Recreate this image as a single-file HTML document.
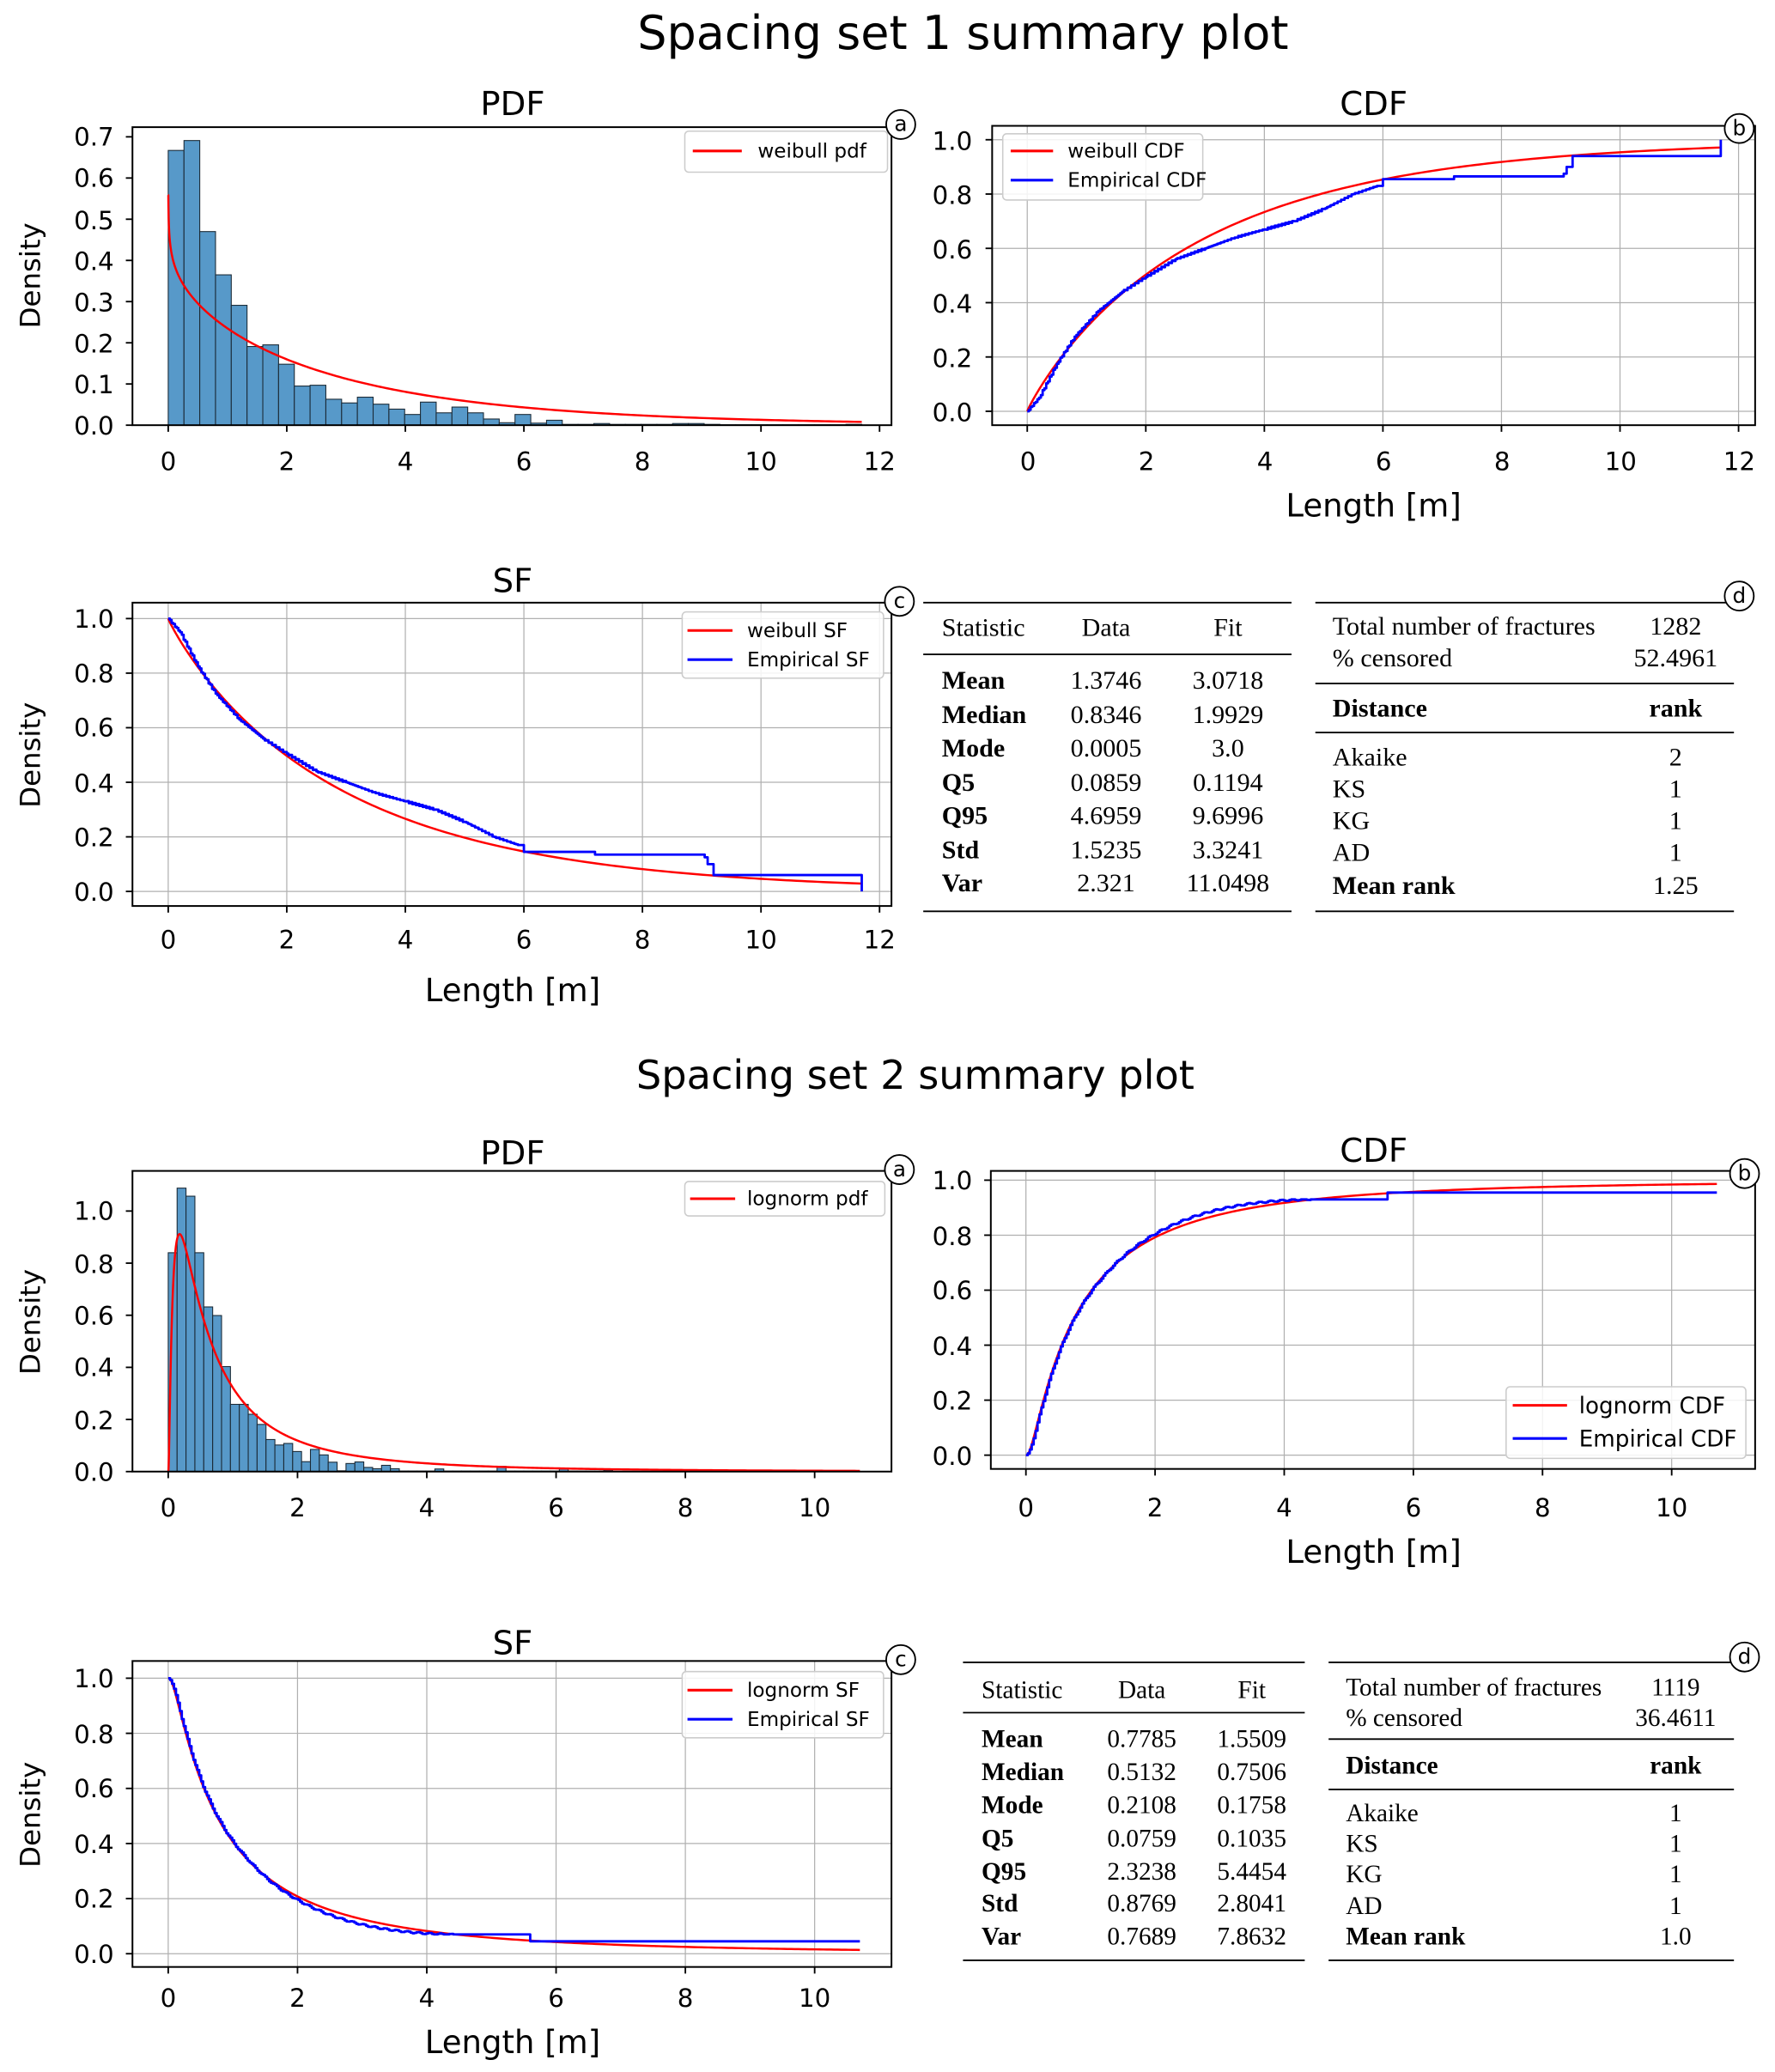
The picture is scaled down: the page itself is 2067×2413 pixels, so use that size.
<!DOCTYPE html>
<html><head><meta charset="utf-8"><style>
html,body{margin:0;padding:0;background:#fff}
svg{display:block}
.t{font-family:"DejaVu Sans","Liberation Sans",sans-serif;fill:#000}
.s{font-family:"Liberation Serif",serif;fill:#000;font-size:19.5px}
.s2{font-family:"Liberation Serif",serif;fill:#000;font-size:19px}
.b{font-weight:bold}
</style></head><body>
<svg id="S" xmlns="http://www.w3.org/2000/svg" width="2067" height="2413" viewBox="0 0 1340 1564.3">
<rect width="1340" height="1565" fill="#fff"/>
<g id="G"></g>
<text class="t" x="727" y="37" font-size="35" text-anchor="middle">Spacing set 1 summary plot</text>
<text class="t" x="691" y="822" font-size="30" text-anchor="middle">Spacing set 2 summary plot</text>
<text class="t" x="387" y="87" font-size="25" text-anchor="middle">PDF</text>
<text class="t" x="1037" y="87" font-size="25" text-anchor="middle">CDF</text>
<text class="t" x="387" y="447" font-size="25" text-anchor="middle">SF</text>
<text class="t" x="387" y="879" font-size="25" text-anchor="middle">PDF</text>
<text class="t" x="1037" y="877" font-size="25" text-anchor="middle">CDF</text>
<text class="t" x="387" y="1249" font-size="25" text-anchor="middle">SF</text>
<text class="t" x="1037" y="390" font-size="24" text-anchor="middle">Length [m]</text>
<text class="t" x="387" y="756" font-size="24" text-anchor="middle">Length [m]</text>
<text class="t" x="1037" y="1180" font-size="24" text-anchor="middle">Length [m]</text>
<text class="t" x="387" y="1550" font-size="24" text-anchor="middle">Length [m]</text>
<text class="t" font-size="21" text-anchor="middle" transform="translate(30,208) rotate(-90)">Density</text>
<text class="t" font-size="21" text-anchor="middle" transform="translate(30,570) rotate(-90)">Density</text>
<text class="t" font-size="21" text-anchor="middle" transform="translate(30,998) rotate(-90)">Density</text>
<text class="t" font-size="21" text-anchor="middle" transform="translate(30,1370) rotate(-90)">Density</text>
<g class="t" font-size="19" text-anchor="end">
<text x="86" y="328">0.0</text><text x="86" y="297">0.1</text><text x="86" y="266">0.2</text><text x="86" y="235">0.3</text><text x="86" y="204">0.4</text><text x="86" y="173">0.5</text><text x="86" y="141">0.6</text><text x="86" y="110">0.7</text>
</g>
<g class="t" font-size="19" text-anchor="middle">
<text x="127" y="355">0</text><text x="216.5" y="355">2</text><text x="306" y="355">4</text><text x="395.5" y="355">6</text><text x="485" y="355">8</text><text x="574.5" y="355">10</text><text x="664" y="355">12</text>
</g>
<g class="t" font-size="19" text-anchor="end">
<text x="734" y="318">0.0</text><text x="734" y="277">0.2</text><text x="734" y="236">0.4</text><text x="734" y="195">0.6</text><text x="734" y="154">0.8</text><text x="734" y="113">1.0</text>
</g>
<g class="t" font-size="19" text-anchor="middle">
<text x="776" y="355">0</text><text x="865.5" y="355">2</text><text x="955" y="355">4</text><text x="1044.5" y="355">6</text><text x="1134" y="355">8</text><text x="1223.5" y="355">10</text><text x="1313" y="355">12</text>
</g>
<g class="t" font-size="19" text-anchor="end">
<text x="86" y="680">0.0</text><text x="86" y="639">0.2</text><text x="86" y="598">0.4</text><text x="86" y="556">0.6</text><text x="86" y="515">0.8</text><text x="86" y="474">1.0</text>
</g>
<g class="t" font-size="19" text-anchor="middle">
<text x="127" y="716">0</text><text x="216.5" y="716">2</text><text x="306" y="716">4</text><text x="395.5" y="716">6</text><text x="485" y="716">8</text><text x="574.5" y="716">10</text><text x="664" y="716">12</text>
</g>
<g class="t" font-size="19" text-anchor="end">
<text x="86" y="1118">0.0</text><text x="86" y="1079">0.2</text><text x="86" y="1039">0.4</text><text x="86" y="1000">0.6</text><text x="86" y="961">0.8</text><text x="86" y="921">1.0</text>
</g>
<g class="t" font-size="19" text-anchor="middle">
<text x="127" y="1145">0</text><text x="224.6" y="1145">2</text><text x="322.2" y="1145">4</text><text x="419.8" y="1145">6</text><text x="517.4" y="1145">8</text><text x="615" y="1145">10</text>
</g>
<g class="t" font-size="19" text-anchor="end">
<text x="734" y="1106">0.0</text><text x="734" y="1064">0.2</text><text x="734" y="1023">0.4</text><text x="734" y="981">0.6</text><text x="734" y="940">0.8</text><text x="734" y="898">1.0</text>
</g>
<g class="t" font-size="19" text-anchor="middle">
<text x="774.5" y="1145">0</text><text x="872" y="1145">2</text><text x="969.5" y="1145">4</text><text x="1067" y="1145">6</text><text x="1164.5" y="1145">8</text><text x="1262" y="1145">10</text>
</g>
<g class="t" font-size="19" text-anchor="end">
<text x="86" y="1482">0.0</text><text x="86" y="1440">0.2</text><text x="86" y="1399">0.4</text><text x="86" y="1357">0.6</text><text x="86" y="1316">0.8</text><text x="86" y="1274">1.0</text>
</g>
<g class="t" font-size="19" text-anchor="middle">
<text x="127" y="1515">0</text><text x="224.6" y="1515">2</text><text x="322.2" y="1515">4</text><text x="419.8" y="1515">6</text><text x="517.4" y="1515">8</text><text x="615" y="1515">10</text>
</g>
<g id="LEG"></g>
<g class="t" font-size="15">
<text x="572" y="119">weibull pdf</text>
<text x="806" y="119">weibull CDF</text><text x="806" y="141">Empirical CDF</text>
<text x="564" y="481">weibull SF</text><text x="564" y="503">Empirical SF</text>
<text x="564" y="910">lognorm pdf</text>
<text x="1192" y="1067" font-size="17">lognorm CDF</text><text x="1192" y="1092" font-size="17">Empirical CDF</text>
<text x="564" y="1281">lognorm SF</text><text x="564" y="1303">Empirical SF</text>
</g>
<g class="t" font-size="16" text-anchor="middle">
<text x="680" y="99">a</text><text x="1313" y="102">b</text><text x="679" y="459">c</text><text x="1313" y="455">d</text>
<text x="679" y="888">a</text><text x="1317" y="891">b</text><text x="680" y="1258">c</text><text x="1317" y="1256">d</text>
</g>
<g class="s">
<text x="711" y="480">Statistic</text><text x="835" y="480" text-anchor="middle">Data</text><text x="927" y="480" text-anchor="middle">Fit</text>
<g class="b"><text x="711" y="520">Mean</text><text x="711" y="546">Median</text><text x="711" y="571">Mode</text><text x="711" y="597">Q5</text><text x="711" y="622">Q95</text><text x="711" y="648">Std</text><text x="711" y="673">Var</text></g>
<g text-anchor="middle"><text x="835" y="520">1.3746</text><text x="835" y="546">0.8346</text><text x="835" y="571">0.0005</text><text x="835" y="597">0.0859</text><text x="835" y="622">4.6959</text><text x="835" y="648">1.5235</text><text x="835" y="673">2.321</text>
<text x="927" y="520">3.0718</text><text x="927" y="546">1.9929</text><text x="927" y="571">3.0</text><text x="927" y="597">0.1194</text><text x="927" y="622">9.6996</text><text x="927" y="648">3.3241</text><text x="927" y="673">11.0498</text></g>
<text x="1006" y="479">Total number of fractures</text><text x="1006" y="503">% censored</text>
<text x="1006" y="541" class="b">Distance</text>
<text x="1006" y="578">Akaike</text><text x="1006" y="602">KS</text><text x="1006" y="626">KG</text><text x="1006" y="650">AD</text><text x="1006" y="675" class="b">Mean rank</text>
<g text-anchor="middle"><text x="1265" y="479">1282</text><text x="1265" y="503">52.4961</text><text x="1265" y="541" class="b">rank</text>
<text x="1265" y="578">2</text><text x="1265" y="602">1</text><text x="1265" y="626">1</text><text x="1265" y="650">1</text><text x="1265" y="675">1.25</text></g>
</g>
<g class="s2">
<text x="741" y="1282">Statistic</text><text x="862" y="1282" text-anchor="middle">Data</text><text x="945" y="1282" text-anchor="middle">Fit</text>
<g class="b"><text x="741" y="1319">Mean</text><text x="741" y="1344">Median</text><text x="741" y="1369">Mode</text><text x="741" y="1394">Q5</text><text x="741" y="1419">Q95</text><text x="741" y="1443">Std</text><text x="741" y="1468">Var</text></g>
<g text-anchor="middle"><text x="862" y="1319">0.7785</text><text x="862" y="1344">0.5132</text><text x="862" y="1369">0.2108</text><text x="862" y="1394">0.0759</text><text x="862" y="1419">2.3238</text><text x="862" y="1443">0.8769</text><text x="862" y="1468">0.7689</text>
<text x="945" y="1319">1.5509</text><text x="945" y="1344">0.7506</text><text x="945" y="1369">0.1758</text><text x="945" y="1394">0.1035</text><text x="945" y="1419">5.4454</text><text x="945" y="1443">2.8041</text><text x="945" y="1468">7.8632</text></g>
<text x="1016" y="1280">Total number of fractures</text><text x="1016" y="1303">% censored</text>
<text x="1016" y="1339" class="b">Distance</text>
<text x="1016" y="1375">Akaike</text><text x="1016" y="1398">KS</text><text x="1016" y="1421">KG</text><text x="1016" y="1445">AD</text><text x="1016" y="1468" class="b">Mean rank</text>
<g text-anchor="middle"><text x="1265" y="1280">1119</text><text x="1265" y="1303">36.4611</text><text x="1265" y="1339" class="b">rank</text>
<text x="1265" y="1375">1</text><text x="1265" y="1398">1</text><text x="1265" y="1421">1</text><text x="1265" y="1445">1</text><text x="1265" y="1468">1.0</text></g>
</g>
</svg>
<script>
(function(){
var NS="http://www.w3.org/2000/svg",G=document.getElementById("G");
function el(n,a,p){var e=document.createElementNS(NS,n);for(var k in a)e.setAttribute(k,a[k]);(p||G).appendChild(e);return e;}
function line(x1,y1,x2,y2,c,w){el("line",{x1:x1,y1:y1,x2:x2,y2:y2,stroke:c,"stroke-width":w});}
function ax(o){
  o.xt.forEach(function(v){line(o.fx(v),o.y0,o.fx(v),o.y1,"#b0b0b0",0.8);});
  o.yt.forEach(function(v){line(o.x0,o.fy(v),o.x1,o.fy(v),"#b0b0b0",0.8);});
}
function frame(o){
  el("rect",{x:o.x0,y:o.y0,width:o.x1-o.x0,height:o.y1-o.y0,fill:"none",stroke:"#000","stroke-width":1.3});
  o.xt.forEach(function(v){line(o.fx(v),o.y1,o.fx(v),o.y1+5,"#000",1.2);});
  o.yt.forEach(function(v){line(o.x0,o.fy(v),o.x0-5,o.fy(v),"#000",1.2);});
}
function path(pts,c,w){var d="M"+pts.map(function(p){return p[0].toFixed(2)+","+p[1].toFixed(2);}).join("L");el("path",{d:d,fill:"none",stroke:c,"stroke-width":w||1.5,"stroke-linejoin":"round"});}
function curve(o,f,a,b,n,c){var p=[];for(var i=0;i<=n;i++){var x=a+(b-a)*Math.pow(i/n,1.6);p.push([o.fx(x),o.fy(f(x))]);}path(p,c,1.6);}
function steps(o,pts,c){var p=[[o.fx(pts[0][0]),o.fy(pts[0][1])]];for(var i=1;i<pts.length;i++){p.push([o.fx(pts[i][0]),o.fy(pts[i-1][1])]);p.push([o.fx(pts[i][0]),o.fy(pts[i][1])]);}path(p,c,1.8);}
function jag(pts,step){
  var out=[pts[0]];for(var i=1;i<pts.length;i++){var a=pts[i-1],b=pts[i];var n=Math.max(1,Math.round((b[0]-a[0])/step));
  for(var j=1;j<=n;j++){var t=j/n;out.push([a[0]+(b[0]-a[0])*t,a[1]+(b[1]-a[1])*t+(j<n?(Math.sin(i*7+j*3.1)*0.003):0)]);}}return out;}
var k=0.92,lam=2.95;
function wpdf(x){x=Math.max(x,0.002);return k/lam*Math.pow(x/lam,k-1)*Math.exp(-Math.pow(x/lam,k));}
function wcdf(x){return 1-Math.exp(-Math.pow(x/lam,k));}
function erf(x){var s=x<0?-1:1;x=Math.abs(x);var t=1/(1+0.3275911*x);var y=1-(((((1.061405429*t-1.453152027)*t)+1.421413741)*t-0.284496736)*t+0.254829592)*t*Math.exp(-x*x);return s*y;}
var mu=Math.log(0.7506),sg=1.205;
function lpdf(x){if(x<=0)return 0;return Math.exp(-Math.pow(Math.log(x)-mu,2)/(2*sg*sg))/(x*sg*Math.sqrt(2*Math.PI));}
function lcdf(x){if(x<=0)return 0;return 0.5*(1+erf((Math.log(x)-mu)/(sg*Math.SQRT2)));}
function mk(x0,x1,y0,y1,zx,sx,zy,sy,xt,yt){return {x0:x0,x1:x1,y0:y0,y1:y1,fx:function(v){return zx+sx*v;},fy:function(v){return zy-sy*v;},xt:xt,yt:yt};}
var X12=[0,2,4,6,8,10,12],X10=[0,2,4,6,8,10],Y1=[0,.2,.4,.6,.8,1];
var P1=mk(100,673,96,321,127,44.75,321,311,X12,[0,.1,.2,.3,.4,.5,.6,.7]);
var C1=mk(749,1325,95,321,775.5,44.75,310.5,205,X12,Y1);
var S1=mk(100,673,455,684,127,44.75,673,206,X12,Y1);
var P2=mk(100,673,884,1111,127,48.8,1111,196.7,X10,Y1);
var C2=mk(748,1325,884,1109,774.5,48.75,1098.6,207.6,X10,Y1);
var S2=mk(100,673,1254,1485,127,48.8,1475,208,X10,Y1);
[C1,S1,C2,S2].forEach(ax);
var h1=[0.667,0.691,0.470,0.365,0.291,0.191,0.195,0.148,0.095,0.097,0.063,0.054,0.068,0.051,0.039,0.026,0.056,0.030,0.044,0.030,0.015,0.006,0.026,0.005,0.012,0.002,0.002,0.004,0.002,0.002,0.002,0.002,0.004,0.004,0.002,0.001,0.001,0.001,0.001,0.001,0.001,0.001,0.001,0.002];
var w1=11.7/h1.length;
h1.forEach(function(h,i){var x=P1.fx(i*w1);el("rect",{x:x,y:P1.fy(h),width:P1.fx((i+1)*w1)-x,height:P1.fy(0)-P1.fy(h),fill:"#5799c9",stroke:"#1b2a36","stroke-width":0.7});});
var h2=[0.84,1.088,1.057,0.84,0.632,0.599,0.403,0.258,0.258,0.22,0.181,0.123,0.102,0.108,0.077,0.038,0.085,0.064,0.036,0.003,0.031,0.037,0.016,0.011,0.024,0.011,0.002,0.002,0.002,0.002,0.01,0.002,0.002,0.002,0.002,0.002,0.002,0.02,0.002,0.002,0.002,0.002,0.002,0.002,0.01,0.002,0.002,0.002,0.002,0.005];
var w2=0.1375;
h2.forEach(function(h,i){var x=P2.fx(i*w2);el("rect",{x:x,y:P2.fy(h),width:P2.fx((i+1)*w2)-x,height:P2.fy(0)-P2.fy(h),fill:"#5799c9",stroke:"#1b2a36","stroke-width":0.7});});
curve(P1,function(x){return Math.min(wpdf(x),0.6);},0,11.7,300,"#f00");
curve(C1,wcdf,0,11.7,200,"#f00");
var e1=jag([[0,0],[0.2,0.05],[0.5,0.175],[0.8,0.275],[1.2,0.37],[1.6,0.44],[2,0.495],[2.5,0.56],[3,0.6],[3.5,0.64],[4,0.67],[4.5,0.70],[5,0.745],[5.5,0.80],[5.9,0.83]],0.03);
e1=e1.concat([[6,0.855],[7.2,0.865],[9.05,0.875],[9.1,0.9],[9.2,0.94],[11.7,0.94],[11.7,1.0]]);
steps(C1,e1,"#00f");
curve(S1,function(x){return 1-wcdf(x);},0,11.7,200,"#f00");
steps(S1,e1.map(function(p){return [p[0],1-p[1]];}),"#00f");
curve(P2,lpdf,0,10.7,400,"#f00");
curve(C2,lcdf,0,10.7,300,"#f00");
var e2=[];for(var x=0;x<=4.5;x+=0.03){var d=(x>1.2&&x<4.5)?0.02*Math.sin(Math.PI*(x-1.2)/3.3):0;e2.push([x,Math.min(lcdf(x)+d+Math.sin(x*37)*0.003,0.93)]);}
e2=e2.concat([[5.6,0.935],[5.6,0.955],[10.7,0.955]]);
steps(C2,e2,"#00f");
curve(S2,function(x){return 1-lcdf(x);},0,10.7,300,"#f00");
steps(S2,e2.map(function(p){return [p[0],1-p[1]];}),"#00f");
[P1,C1,S1,P2,C2,S2].forEach(frame);
[[697,975,455],[697,975,494],[697,975,688],[993,1309,455],[993,1309,516],[993,1309,553],[993,1309,688],
 [727,985,1255],[727,985,1293],[727,985,1480],[1003,1309,1255],[1003,1309,1313],[1003,1309,1351],[1003,1309,1480]].forEach(function(l){line(l[0],l[2],l[1],l[2],"#000",1.2);});
var L=document.getElementById("LEG");
function box(x,y,w,h){el("rect",{x:x,y:y,width:w,height:h,rx:3,fill:"#fff","fill-opacity":0.85,stroke:"#ccc","stroke-width":1},L);}
function ll(x1,x2,y,c){el("line",{x1:x1,y1:y,x2:x2,y2:y,stroke:c,"stroke-width":2},L);}
box(517,99,153,31);ll(523,560,114,"#f00");
box(757,101,151,50);ll(763,795,114,"#f00");ll(763,795,136,"#00f");
box(515,462,152,50);ll(519,553,476,"#f00");ll(519,553,498,"#00f");
box(517,892,151,26);ll(521,555,905,"#f00");
box(1137,1047,181,54);ll(1142,1183,1061,"#f00");ll(1142,1183,1086,"#00f");
box(515,1262,152,50);ll(519,553,1276,"#f00");ll(519,553,1298,"#00f");
[[680,94],[1313,97],[679,454],[1313,450],[679,883],[1317,886],[680,1253],[1317,1251]].forEach(function(c){el("circle",{cx:c[0],cy:c[1],r:11,fill:"#fff",stroke:"#000","stroke-width":1.2},L);});
})();
</script>
</body></html>
